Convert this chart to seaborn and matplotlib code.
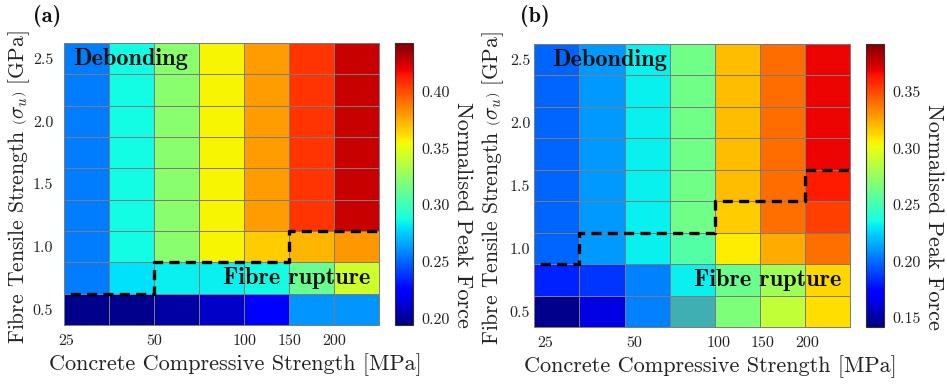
import numpy as np
import pandas as pd
import matplotlib
matplotlib.use("Agg")
import matplotlib.pyplot as plt
import seaborn as sns
from matplotlib.colors import ListedColormap

# ---------------- data ----------------
compressive = [25, 37.5, 50, 75, 100, 150, 200]          # MPa (columns)
tensile = [2.5, 2.25, 2.0, 1.75, 1.5, 1.25, 1.0, 0.75, 0.5]  # GPa (rows, top -> bottom)
x_tick_values = [25, 50, 100, 150, 200]
y_tick_values = [0.5, 1.0, 1.5, 2.0, 2.5]

# normalised peak force, panel (a); one list per column, rows top -> bottom
a_c25 = [0.256, 0.256, 0.256, 0.256, 0.256, 0.256, 0.256, 0.256, 0.197]
a_c37 = [0.287, 0.287, 0.287, 0.287, 0.287, 0.287, 0.287, 0.280, 0.197]
a_c50 = [0.323, 0.323, 0.323, 0.323, 0.323, 0.323, 0.323, 0.284, 0.202]
a_c75 = [0.356, 0.356, 0.356, 0.356, 0.356, 0.356, 0.356, 0.284, 0.210]
a_c100 = [0.379, 0.379, 0.379, 0.379, 0.379, 0.379, 0.367, 0.287, 0.224]
a_c150 = [0.407, 0.407, 0.407, 0.407, 0.407, 0.407, 0.372, 0.312, 0.262]
a_c200 = [0.427, 0.427, 0.427, 0.427, 0.427, 0.427, 0.380, 0.343, 0.262]

# panel (b)
b_c25 = [0.198, 0.198, 0.198, 0.198, 0.198, 0.198, 0.198, 0.182, 0.145]
b_c37 = [0.211, 0.211, 0.211, 0.211, 0.211, 0.211, 0.211, 0.186, 0.164]
b_c50 = [0.232, 0.232, 0.232, 0.232, 0.232, 0.232, 0.232, 0.205, 0.205]
b_c75 = [0.264, 0.264, 0.264, 0.264, 0.264, 0.264, 0.255, 0.232, 0.245]
b_c100 = [0.319, 0.319, 0.319, 0.319, 0.319, 0.315, 0.307, 0.262, 0.267]
b_c150 = [0.341, 0.341, 0.341, 0.341, 0.341, 0.340, 0.324, 0.278, 0.288]
b_c200 = [0.368, 0.368, 0.368, 0.368, 0.362, 0.352, 0.340, 0.312, 0.310]

# tensile strength (GPa) separating fibre rupture (below) from debonding (above)
transition_a = [0.625, 0.625, 0.875, 0.875, 0.875, 1.125, 1.125]
transition_b = [0.875, 1.125, 1.125, 1.125, 1.375, 1.375, 1.625]

# colour limits
range_a = (0.194, 0.443)
range_b = (0.142, 0.392)
cbar_ticks_a = [0.20, 0.25, 0.30, 0.35, 0.40]
cbar_ticks_b = [0.15, 0.20, 0.25, 0.30, 0.35]

# cell of panel (b) rendered in a muted teal in the original
b_muted_cell = (75, 0.5)

# ---------------- style ----------------
sns.set_theme(style="white")
plt.rcParams["font.family"] = ["cmr10", "DejaVu Serif"]
plt.rcParams["mathtext.fontset"] = "cm"
plt.rcParams["axes.formatter.use_mathtext"] = True
plt.rcParams["axes.unicode_minus"] = False

TICK = 11.5
LABEL = 16
YLABEL = 15.5
BOLD = ["cmb10", "DejaVu Serif"]
GRID = "#7c7c7c"
TXT = "#222222"

W, H = 947, 386
fig = plt.figure(figsize=(W / 100, H / 100), dpi=100)


def fx(px):
    return px / W


def fy(py):
    return 1 - py / H


def make_df(cols):
    arr = np.array(cols).T
    return pd.DataFrame(arr, index=tensile, columns=compressive)


def panel(ax_rect, cax_rect, cols, vrange, cticks, transition, letter, letter_xy,
          ytick_pad, ylabel_x, xlabel_x, deb_x, xtick_shift, muted=None):
    ax = fig.add_axes(ax_rect)
    cax = fig.add_axes(cax_rect)
    df = make_df(cols)
    sns.heatmap(df, ax=ax, cmap="jet", vmin=vrange[0], vmax=vrange[1],
                linewidths=0.6, linecolor=GRID, cbar_ax=cax,
                xticklabels=False, yticklabels=False)
    if muted is not None:
        mask = np.ones(df.shape, dtype=bool)
        mask[tensile.index(muted[1]), compressive.index(muted[0])] = False
        sns.heatmap(df, ax=ax, mask=mask, cmap=ListedColormap(["#40afb4"]),
                    linewidths=0.6, linecolor=GRID, cbar=False,
                    xticklabels=False, yticklabels=False)

    # ticks
    xt = [compressive.index(v) + s for v, s in zip(x_tick_values, xtick_shift)]
    ax.set_xticks(xt)
    ax.set_xticklabels([str(v) for v in x_tick_values], fontsize=TICK)
    yt = [tensile.index(v) + 0.5 for v in y_tick_values]
    ax.set_yticks(yt)
    ax.set_yticklabels([f"{v:.1f}" for v in y_tick_values], fontsize=TICK, rotation=0)
    ax.tick_params(axis="x", direction="in", length=0, pad=7)
    ax.tick_params(axis="y", direction="in", length=3, width=0.6, pad=ytick_pad,
                   left=True, right=True, color="#303030")
    for lab in ax.get_xticklabels() + ax.get_yticklabels():
        lab.set_color(TXT)

    for s in ax.spines.values():
        s.set_visible(True)
        s.set_color(GRID)
        s.set_linewidth(0.7)

    ax.set_xlabel("Concrete Compressive Strength [MPa]", fontsize=LABEL, color=TXT)
    ax.xaxis.set_label_coords(xlabel_x, -0.1)
    ax.xaxis.label.set_va("top")
    ax.set_ylabel(r"Fibre Tensile Strength $\left(\sigma_u\right)$ [GPa]",
                  fontsize=YLABEL, color=TXT)
    ax.yaxis.set_label_coords(ylabel_x, 0.49)

    # failure-mode boundary
    ys = np.interp(transition, tensile[::-1], (np.arange(len(tensile)) + 0.5)[::-1])
    xs = np.arange(len(compressive) + 1)
    ax.step(xs, np.append(ys, ys[-1]), where="post", color="black", lw=2.4,
            linestyle=(3.0, (3.0, 1.9)), dash_capstyle="butt", clip_on=False, zorder=5)

    ax.text(deb_x, 0.52, "Debonding", fontsize=17.5,
            family=BOLD, ha="left", va="center", color="#111111", zorder=6)
    ax.text(6.8, 7.5, "Fibre rupture", fontsize=17.5, family=BOLD,
            ha="right", va="center", color="#111111", zorder=6)

    fig.text(letter_xy[0], letter_xy[1], letter, fontsize=16, family=BOLD,
             ha="left", va="center", color="#111111")

    # colourbar
    cb = ax.collections[0].colorbar
    cb.set_ticks(cticks)
    cb.set_ticklabels([f"{t:.2f}" for t in cticks])
    cax.tick_params(direction="in", length=3, width=0.6, pad=6, labelsize=TICK,
                    labelcolor=TXT, color="#303030")
    cb.outline.set_visible(True)
    cb.outline.set_edgecolor("#303030")
    cb.outline.set_linewidth(0.8)
    cax.set_ylabel("Normalised Peak Force", fontsize=LABEL, rotation=270,
                   va="center", ha="center", color=TXT)
    cax.yaxis.set_label_coords(3.75, 0.39)
    return ax


panel([fx(64.3), fy(325), fx(315), (325 - 43) / H],
      [fx(395), fy(325), fx(18), (325 - 43) / H],
      [a_c25, a_c37, a_c50, a_c75, a_c100, a_c150, a_c200],
      range_a, cbar_ticks_a, transition_a, "(a)", (fx(33), fy(16)),
      ytick_pad=8, ylabel_x=-0.104, xlabel_x=0.543, deb_x=0.19,
      xtick_shift=[0.04, 0.0, 0.0, 0.0, 0.0])

panel([fx(534.3), fy(327), fx(315.7), (327 - 44) / H],
      [fx(866), fy(327), fx(18), (327 - 44) / H],
      [b_c25, b_c37, b_c50, b_c75, b_c100, b_c150, b_c200],
      range_b, cbar_ticks_b, transition_b, "(b)", (fx(520), fy(16)),
      ytick_pad=3, ylabel_x=-0.09, xlabel_x=0.558, deb_x=0.39,
      xtick_shift=[0.24, 0.22, 0.08, 0.06, 0.06], muted=b_muted_cell)

fig.savefig("out.png", dpi=100)
